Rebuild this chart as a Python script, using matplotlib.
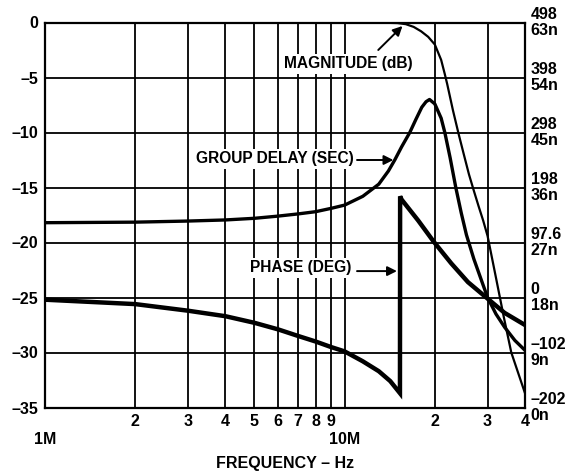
import matplotlib
matplotlib.use('Agg')
import matplotlib.pyplot as plt
import numpy as np

'''Filter response: magnitude, group delay and phase against frequency.'''

# magnitude (dB)
mag_freq = [1, 5, 10, 13, 15, 16, 17, 18, 19, 20, 21, 21.6, 22, 23, 24, 25, 26, 27,
            28, 29, 30, 32, 34, 36, 38, 40]
mag_db = [0, 0, 0, -0.01, -0.05, -0.15, -0.4, -0.8, -1.3, -2.0, -3.4, -4.7, -5.6, -8.0,
          -10.1, -12.0, -13.8, -15.3, -16.7, -18.0, -19.4, -23.2, -26.8, -30.0, -31.9, -33.7]

# group delay, plotted on the left scale
gd_freq = [1, 2, 3, 4, 5, 6, 7, 8, 9, 10, 11.5, 13, 14, 14.7, 15.5, 16.5, 17.3, 18.1,
           18.7, 19.2, 20, 21, 21.6, 22.5, 23.5, 24.5, 25.5, 27, 28.5, 30, 32, 34.2, 37, 40]
gd_val = [-18.2, -18.15, -18.05, -17.95, -17.8, -17.6, -17.4, -17.2, -16.9, -16.6, -15.8,
          -14.7, -13.5, -12.5, -11.3, -10.0, -8.8, -7.7, -7.2, -7.0, -7.4, -8.7, -10.0,
          -12.3, -15.0, -17.3, -19.3, -21.5, -23.3, -25.0, -26.5, -27.7, -28.9, -29.8]

# phase, plotted on the left scale (wraps near 15.3M)
ph_freq = [1, 2, 3, 4, 5, 6, 7, 8, 9, 10, 11.5, 13, 14.2, 15.3, 15.32, 15.5, 17.6, 19.8,
           22.7, 25.8, 30, 34.2, 40]
ph_val = [-25.2, -25.6, -26.2, -26.7, -27.3, -27.9, -28.5, -29.0, -29.5, -29.9, -30.8,
          -31.7, -32.6, -33.7, -15.8, -16.1, -18.0, -19.9, -21.9, -23.6, -25.1, -26.4, -27.5]

y_ticks = [-35, -30, -25, -20, -15, -10, -5, 0]
y_left_labels = ['\u201335', '\u201330', '\u201325', '\u201320', '\u201315', '\u201310', '\u20135', '0']
y_right_labels = ['\u2013202\n0n', '\u2013102\n9n', '0\n18n', '97.6\n27n',
                  '198\n36n', '298\n45n', '398\n54n', '498\n63n']
decade_ticks = [1, 10]
decade_labels = ['1M', '10M']
x_ticks = [2, 3, 4, 5, 6, 7, 8, 9, 20, 30, 40]
x_labels = ['2', '3', '4', '5', '6', '7', '8', '9', '2', '3', '4']

plt.rcParams['font.family'] = ['Liberation Sans', 'DejaVu Sans']
plt.rcParams['font.weight'] = 'bold'
plt.rcParams['font.size'] = 11.5

fig = plt.figure(figsize=(5.76, 4.74), dpi=100)
ax = fig.add_axes([45/576, 66.5/474, 480/576, 385/474])

ax.plot(np.array(mag_freq) * 1e6, mag_db, color='black', lw=1.6, zorder=2)
ax.plot(np.array(gd_freq) * 1e6, gd_val, color='black', lw=2.4, zorder=2)
ax.plot(np.array(ph_freq) * 1e6, ph_val, color='black', lw=3.2, zorder=2,
        solid_joinstyle='miter')

ax.set_xscale('log')
ax.set_xlim(1e6, 40e6)
ax.set_ylim(-35, 0)
ax.set_xticks(np.array(decade_ticks) * 1e6)
ax.set_xticklabels(decade_labels, fontweight='bold')
ax.set_xticks(np.array(x_ticks) * 1e6, minor=True)
ax.set_xticklabels(x_labels, minor=True, fontweight='bold')
ax.set_yticks(y_ticks)
ax.set_yticklabels(y_left_labels, fontweight='bold')
ax.tick_params(which='both', length=0, pad=5)
ax.tick_params(axis='x', which='major', pad=18)
ax.grid(True, which='both', color='black', lw=1.3)
ax.set_axisbelow(True)
for s in ax.spines.values():
    s.set_linewidth(1.6)
ax.set_xlabel('FREQUENCY \u2013 Hz', fontweight='bold')
ax.xaxis.set_label_coords(0.5, -0.125)

ax2 = ax.twinx()
ax2.set_ylim(-35, 0)
ax2.set_yticks(y_ticks)
ax2.set_yticklabels(y_right_labels, va='center', ha='left', linespacing=1.1,
                    fontweight='bold')
ax2.tick_params(length=0, pad=4)
for s in ax2.spines.values():
    s.set_visible(False)

box = dict(boxstyle='square,pad=0.15', facecolor='white', edgecolor='none')
ax.text(10.3e6, -3.77, 'MAGNITUDE (dB)', ha='center', va='center', bbox=box,
        zorder=3, fontweight='bold', fontsize=11.2)
ax.text(10.7e6, -12.4, 'GROUP DELAY (SEC)', ha='right', va='center', bbox=box,
        zorder=3, fontweight='bold', fontsize=11.2)
ax.text(10.5e6, -22.3, 'PHASE (DEG)', ha='right', va='center', bbox=box,
        zorder=3, fontweight='bold', fontsize=11.2)

arrow = dict(arrowstyle='-|>', color='black', lw=1.4, mutation_scale=14,
             shrinkA=0, shrinkB=0)
ax.annotate('', xy=(15.6e6, -0.32), xytext=(12.95e6, -2.5), arrowprops=arrow)
ax.annotate('', xy=(14.55e6, -12.5), xytext=(11.0e6, -12.5), arrowprops=arrow)
ax.annotate('', xy=(14.95e6, -22.6), xytext=(11.0e6, -22.6), arrowprops=arrow)

fig.savefig('out.png', dpi=100)
